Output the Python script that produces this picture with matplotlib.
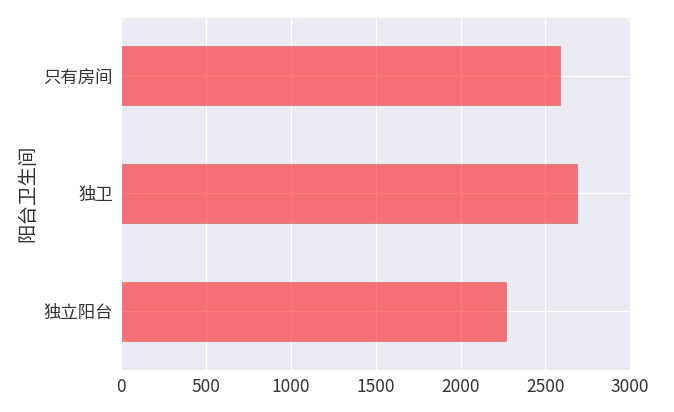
import matplotlib
matplotlib.use('Agg')
import matplotlib.pyplot as plt
import seaborn as sns

categories = ['独立阳台', '独卫', '只有房间']
prices = [2268, 2688, 2587]
xticks = [0, 500, 1000, 1500, 2000, 2500, 3000]

sns.set_style('darkgrid')
plt.rcParams['font.family'] = ['Noto Sans CJK SC', 'DejaVu Sans']

fig = plt.figure(figsize=(6.74, 4.12), dpi=100)
ax = fig.add_axes([0.18, 0.102, 0.755, 0.857])

ax.barh(range(len(categories)), prices, height=0.5, color='red', alpha=0.52,
        edgecolor='#c05050', linewidth=0.6)
ax.set_yticks(range(len(categories)))
ax.set_yticklabels(categories, fontsize=12.5, color='#333333')
ax.set_xticks(xticks)
ax.set_xticklabels([str(t) for t in xticks], fontsize=12.5, color='#333333')
ax.set_xlim(0, 3000)
ax.set_ylim(-0.5, 2.5)
ax.set_ylabel('阳台卫生间', fontsize=14, color='#333333')
ax.tick_params(axis='both', length=0, pad=6)

fig.savefig('out.png', dpi=100)
